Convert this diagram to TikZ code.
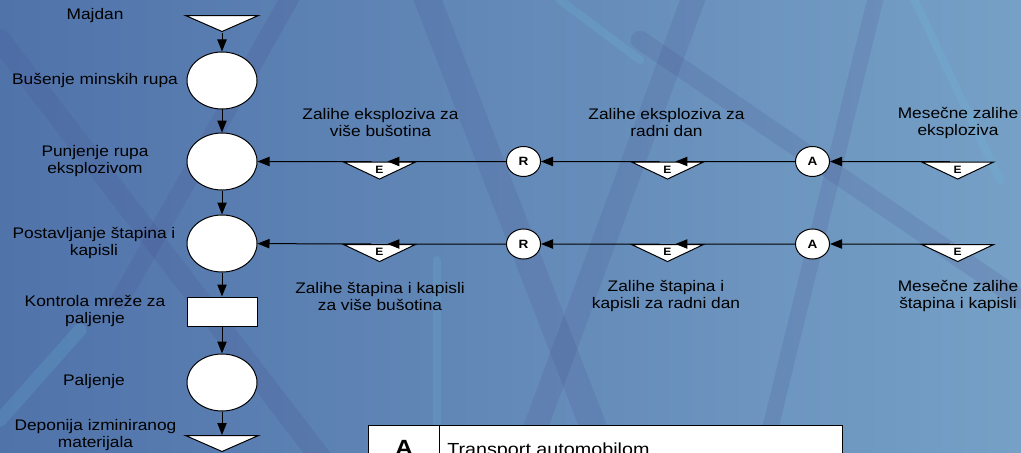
\documentclass[tikz,border=0pt]{standalone}
\usepackage{fontspec}
\setmainfont{Liberation Sans}[FakeStretch=1.13]
\usetikzlibrary{arrows.meta}
\usetikzlibrary{shapes.geometric}

\definecolor{bgleft}{RGB}{80,115,170}
\definecolor{bgright}{RGB}{118,160,198}
\definecolor{beamdark}{RGB}{70,76,140}
\definecolor{beamlight}{RGB}{110,200,230}

\tikzset{
  proc/.style={draw,fill=white,ellipse,line width=0.75pt,minimum width=52.5pt,minimum height=42.75pt,inner sep=0pt},
  ctrl/.style={draw,fill=white,rectangle,line width=0.75pt,minimum width=52.5pt,minimum height=21.75pt,inner sep=0pt},
  stock/.style={draw,fill=white,isosceles triangle,isosceles triangle stretches,shape border rotate=270,line width=0.75pt,minimum width=54pt,minimum height=12pt,inner sep=0pt,font=\bfseries\fontsize{8}{8}\selectfont},
  endstock/.style={stock,minimum width=54.75pt,minimum height=12pt},
  trans/.style={draw,fill=white,ellipse,line width=0.75pt,minimum width=25.5pt,minimum height=22.5pt,inner sep=0pt,font=\bfseries\fontsize{9}{9}\selectfont},
  lbl/.style={align=center,inner sep=0.75pt,font=\fontsize{11.5}{12.75}\selectfont},
  flow/.style={-{Triangle[length=9pt,width=7pt]},line width=0.75pt},
  beam/.style={line width=#1,line cap=round,opacity=0.16},
}

\begin{document}
\begin{tikzpicture}[x=0.75pt,y=0.75pt,yscale=-1,xscale=1]
\useasboundingbox (0,0) rectangle (1021,453);
\clip (0,0) rectangle (1021,453);

%Background
\shade [left color=bgleft,right color=bgright] (0,0) rectangle (1021,453);
\draw [beam=20pt,beamdark] (420,-20) -- (610,470);
\draw [beam=18pt,beamdark] (700,-20) -- (520,470);
\draw [beam=16pt,beamdark] (0,40) -- (330,470);
\draw [beam=14pt,beamdark] (300,-20) -- (120,300);
\draw [beam=14pt,beamdark] (640,40) -- (1021,300);
\draw [beam=12pt,beamdark] (880,-20) -- (760,470);
\draw [beam=6pt,beamlight] (437,260) -- (437,470);
\draw [beam=6pt,beamlight] (905,-20) -- (1000,180);
\draw [beam=10pt,beamlight] (0,420) -- (80,330);
\draw [beam=6pt,beamlight] (560,0) -- (640,60);

%Main column
\node [endstock] (maj) at (222,15) [anchor=north] {};
\node [proc] (bus) at (222,80.5) {};
\node [proc] (pun) at (222,161.5) {};
\node [proc] (pos) at (222,243.5) {};
\node [ctrl] (kon) at (222,311.5) {};
\node [proc] (pal) at (222,382.5) {};
\node [endstock] (dep) at (222,435) [anchor=north] {};

\draw [flow] (maj.south) -- (bus);
\draw [flow] (bus) -- (pun);
\draw [flow] (pun) -- (pos);
\draw [flow] (pos) -- (kon);
\draw [flow] (kon) -- (pal);
\draw [flow] (pal) -- (dep.north);

%Explosive row
\node [stock] (eexA) at (379.5,161.5) [anchor=north] {E};
\node [trans] (rex) at (523.5,161.5) {R};
\node [stock] (eexB) at (667.5,161.5) [anchor=north] {E};
\node [trans] (aex) at (812.5,161.5) {A};
\node [stock] (eexC) at (957.7,161.5) [anchor=north] {E};

\draw [flow] (eexC.north west) -- (aex);
\draw [flow] (aex) -- (eexB.north east);
\draw [flow] (eexB.north west) -- (rex);
\draw [flow] (rex) -- (eexA.north east);
\draw [flow] (eexA.north west) -- (pun);

%Detonator row
\node [stock] (ekaA) at (379.5,244) [anchor=north] {E};
\node [trans] (rka) at (523.5,244) {R};
\node [stock] (ekaB) at (667.5,244) [anchor=north] {E};
\node [trans] (aka) at (812.5,244) {A};
\node [stock] (ekaC) at (957.7,244) [anchor=north] {E};

\draw [flow] (ekaC.north west) -- (aka);
\draw [flow] (aka) -- (ekaB.north east);
\draw [flow] (ekaB.north west) -- (rka);
\draw [flow] (rka) -- (ekaA.north east);
\draw [flow] (ekaA.north west) -- (pos);

% Text Node
\node [lbl] (tmaj) at (95,16) {Majdan};
\node [lbl] (tbus) at (95,80.5) {Bušenje minskih rupa};
\node [lbl] (tpun) at (95,161.5) {Punjenje rupa\\eksplozivom};
\node [lbl] (tpos) at (94,243.5) {Postavljanje štapina i\\kapisli};
\node [lbl] (tkon) at (95,311.5) {Kontrola mreže za\\paljenje};
\node [lbl] (tpal) at (94,382) {Paljenje};
\node [lbl] (tdep) at (95.5,435) {Deponija izminiranog\\materijala};

% Text Node
\node [lbl] (texA) at (380.5,123) {Zalihe eksploziva za\\više bušotina};
\node [lbl] (texB) at (666.5,123) {Zalihe eksploziva za\\radni dan};
\node [lbl] (texC) at (958,123) {Mesečne zalihe\\eksploziva};
\node [lbl] (tkaA) at (380,296) {Zalihe štapina i kapisli\\za više bušotina};
\node [lbl] (tkaB) at (666,296) {Zalihe štapina i\\kapisli za radni dan};
\node [lbl] (tkaC) at (958,296) {Mesečne zalihe\\štapina i kapisli};

%Legend table
\draw [fill=white,line width=0.75pt] (368,425) rectangle (842,480);
\draw [line width=0.75pt] (439.3,425) -- (439.3,480);
\node [anchor=base,inner sep=0pt,font=\bfseries\fontsize{16.5}{18}\selectfont] (legA) at (404,455) {A};
\node [anchor=base west,inner sep=0pt,font=\fontsize{13.1}{15}\selectfont] (legT) at (447,455.5) {Transport automobilom};

\end{tikzpicture}
\end{document}
